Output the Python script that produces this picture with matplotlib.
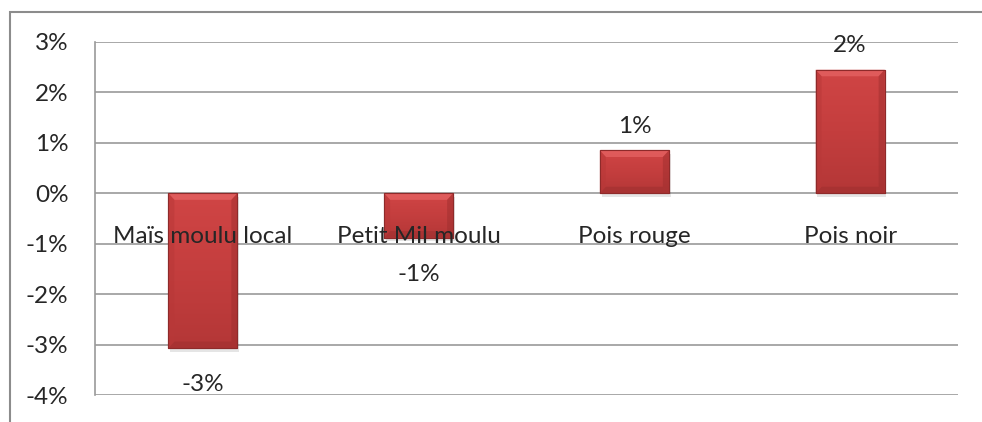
import matplotlib
matplotlib.use("Agg")
import matplotlib.pyplot as plt
import numpy as np
from matplotlib.patches import Rectangle, Polygon

categories = ["Maïs moulu local", "Petit Mil moulu", "Pois rouge", "Pois noir"]
values = [-3.07, -0.88, 0.85, 2.45]
yticks = [3, 2, 1, 0, -1, -2, -3, -4]

plt.rcParams['font.family'] = ['Lato', 'DejaVu Sans']
FS = 17.5
TXT = '#262626'

fig = plt.figure(figsize=(9.82, 4.22), dpi=100)
fig.patch.set_facecolor('white')

# outer frame
fig.patches.append(Rectangle((10/982, -0.1), 1.2, (410/422) + 0.1,
                             transform=fig.transFigure, fill=False,
                             edgecolor='#8c8c8c', linewidth=1.5))

ax = fig.add_axes([95/982, 1 - 395/422, (958-95)/982, (395-42)/422])
ax.set_xlim(-0.5, len(categories) - 0.5)
ax.set_ylim(-4, 3)
ax.set_yticks(yticks)
ax.set_yticklabels([f"{t}%" for t in yticks], fontsize=FS, color=TXT)
ax.tick_params(axis='y', length=0, pad=19)
ax.set_xticks([])
for s in ['top', 'right', 'bottom']:
    ax.spines[s].set_visible(False)
ax.spines['left'].set_color('#9a9a9a')
ax.spines['left'].set_linewidth(1.2)
ax.grid(axis='y', color='#9a9a9a', linewidth=1.2)
ax.set_axisbelow(True)

x = np.arange(len(categories))
width = 0.32
bars = ax.bar(x, values, width=width, color='#C63E3E', edgecolor='#8E2A2A',
              linewidth=0.8, zorder=3)

cmap = matplotlib.colors.LinearSegmentedColormap.from_list(
    'r', ['#B43737', '#C43E3E', '#D04545'])
bev = 0.028  # bevel width in data x units
for b in bars:
    bx, by = b.get_x(), b.get_y()
    bw, bh = b.get_width(), b.get_height()
    ylo, yhi = min(by, by + bh), max(by, by + bh)
    sh = Rectangle((bx + 0.008, ylo - 0.07), bw, yhi - ylo, facecolor='#000000',
                   alpha=0.10, edgecolor='none', zorder=2)
    ax.add_patch(sh)
    grad = np.linspace(0, 1, 100).reshape(-1, 1)
    im = ax.imshow(grad, extent=(bx, bx + bw, ylo, yhi), origin='lower',
                   cmap=cmap, aspect='auto', zorder=3.5)
    im.set_clip_path(b)
    bv = 0.13 if (yhi - ylo) > 0.5 else 0.1
    ax.add_patch(Polygon([(bx, yhi), (bx + bw, yhi), (bx + bw - bev, yhi - bv),
                          (bx + bev, yhi - bv)], closed=True,
                         facecolor='#E56363', edgecolor='none', alpha=0.75, zorder=3.6))
    ax.add_patch(Polygon([(bx + bw, yhi), (bx + bw, ylo), (bx + bw - bev, ylo + bv),
                          (bx + bw - bev, yhi - bv)], closed=True,
                         facecolor='#9A2D2D', edgecolor='none', alpha=0.45, zorder=3.6))
    ax.add_patch(Polygon([(bx, ylo), (bx + bw, ylo), (bx + bw - bev, ylo + bv),
                          (bx + bev, ylo + bv)], closed=True,
                         facecolor='#9A2D2D', edgecolor='none', alpha=0.45, zorder=3.6))
    ax.add_patch(Polygon([(bx, yhi), (bx, ylo), (bx + bev, ylo + bv),
                          (bx + bev, yhi - bv)], closed=True,
                         facecolor='#B83838', edgecolor='none', alpha=0.5, zorder=3.6))
    ax.add_patch(Rectangle((bx, by), bw, bh, fill=False, edgecolor='#8E2A2A',
                           linewidth=0.8, zorder=4))

ax.set_xlim(-0.5, len(categories) - 0.5)
ax.set_ylim(-4, 3)

# value labels
for xi, v in zip(x, values):
    lbl = f"{int(round(v))}%"
    if v >= 0:
        ax.annotate(lbl, (xi, v), xytext=(0, 10), textcoords='offset points',
                    ha='center', va='bottom', fontsize=FS, color=TXT, zorder=5)
    else:
        ax.annotate(lbl, (xi, v), xytext=(0, -19), textcoords='offset points',
                    ha='center', va='top', fontsize=FS, color=TXT, zorder=5)

# category labels below zero line
for xi, c in zip(x, categories):
    ax.annotate(c, (xi, 0), xytext=(0, -31), textcoords='offset points',
                ha='center', va='center', fontsize=FS, color=TXT, zorder=6)

fig.savefig('out.png', dpi=100)
